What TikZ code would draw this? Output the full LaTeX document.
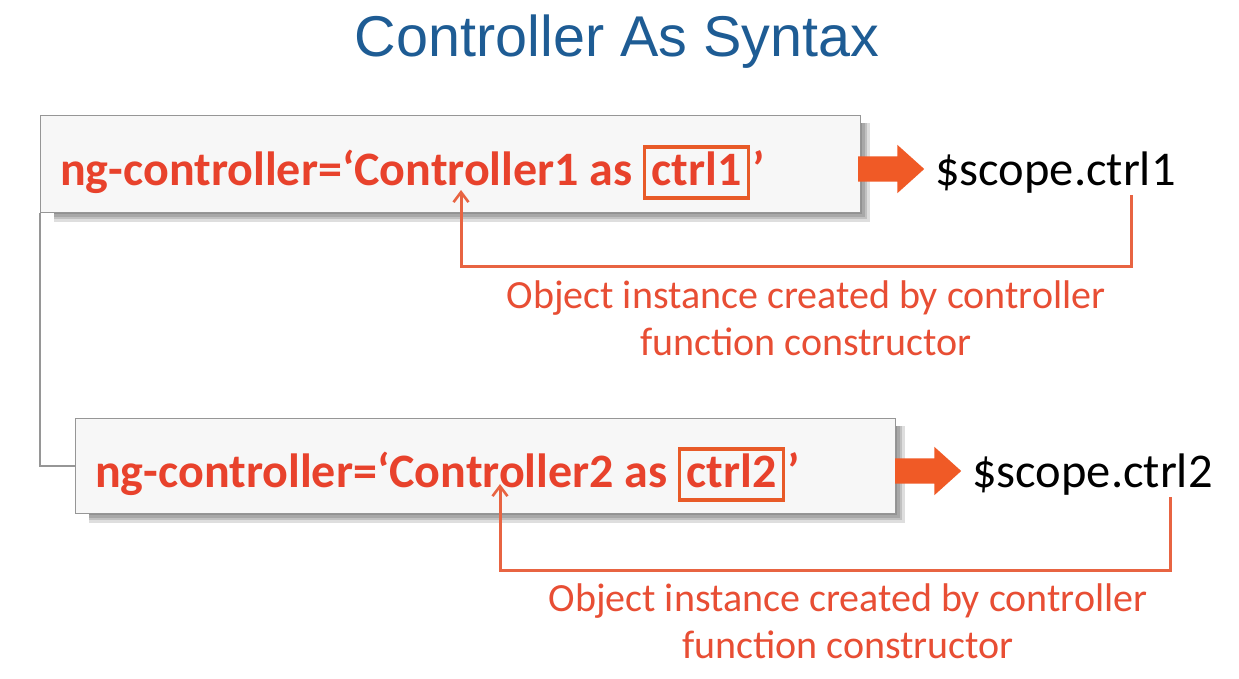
\documentclass[tikz,border=0pt]{standalone}
\usepackage{fontspec}
\setmainfont{Carlito}
\newfontfamily\titlefont{Liberation Sans}
\usetikzlibrary{arrows.meta,shapes.arrows}
\definecolor{titleblue}{RGB}{30,92,148}
\definecolor{codered}{RGB}{232,66,44}
\definecolor{boxorange}{RGB}{232,90,40}
\definecolor{fatorange}{RGB}{240,90,38}
\definecolor{linkorange}{RGB}{232,100,66}
\definecolor{labelred}{RGB}{232,78,52}
\definecolor{panelgray}{RGB}{150,150,150}
\tikzset{
  panel/.style={draw=panelgray, line width=1.2pt, fill=white!97!black, inner sep=0pt, anchor=north west},
  codetext/.style={text=codered, font=\fontsize{48}{58}\selectfont\bfseries, inner sep=0pt, anchor=base west},
  ctrlbox/.style={draw=boxorange, line width=3.6pt, text=codered, font=\fontsize{48}{58}\selectfont\bfseries,
    inner xsep=7pt, inner ysep=4pt, text height=34pt, text depth=9pt, anchor=base west},
  scopetext/.style={text=black, font=\fontsize{48.5}{58}\selectfont, inner sep=0pt, anchor=base west},
  fatarrow/.style={single arrow, fill=fatorange, draw=none, minimum height=66pt, minimum width=48pt,
    inner xsep=0pt, inner ysep=12.5pt, single arrow head extend=11.5pt, single arrow tip angle=84, anchor=west},
  link/.style={draw=linkorange, line width=3pt, -{Straight Barb[length=10pt,width=15pt,line width=2.6pt]}},
  note/.style={text=labelred, font=\fontsize{40}{47}\selectfont, align=center, inner sep=0pt},
  joiner/.style={draw=panelgray, line width=1.4pt}
}
\begin{document}
\begin{tikzpicture}[x=1pt,y=-1pt]
\useasboundingbox[fill=white] (0,0) rectangle (1239,678);

% heading
\node[text=titleblue, font=\titlefont\fontsize{57.5}{64}\selectfont, inner sep=0pt] (title) at (617,42) {Controller As Syntax};

% soft shadows under the two panels
\foreach \o in {3,6,9,12}{
  \fill[black, opacity=0.13] (40+14,115+8) rectangle (860+\o*0.8,212+\o*0.8);
  \fill[black, opacity=0.13] (75+14,418+8) rectangle (895+\o*0.8,513+\o*0.8);
}

% panels
\node[panel, minimum width=820pt, minimum height=97pt] (box1) at (40,115) {};
\node[panel, minimum width=820pt, minimum height=95pt] (box2) at (75,418) {};

% line joining the two panels
\draw[joiner] (box1.south west) |- (box2.west);

% first directive
\node[codetext] (code1) at (60,185) {ng-controller=‘Controller1 as};
\node[ctrlbox] (k1) at ([xshift=10pt]code1.base east) {ctrl1};
\node[codetext] (q1) at ([xshift=2pt]k1.base east) {’};
\node[fatarrow] (a1) at (858,169) {};
\node[scopetext] (s1) at (935,185) {\$scope.ctrl1};

% second directive
\node[codetext] (code2) at (95,487) {ng-controller=‘Controller2 as};
\node[ctrlbox] (k2) at ([xshift=10pt]code2.base east) {ctrl2};
\node[codetext] (q2) at ([xshift=2pt]k2.base east) {’};
\node[fatarrow] (a2) at (895,471) {};
\node[scopetext] (s2) at (972,487) {\$scope.ctrl2};

% back-references from $scope to the controller
\coordinate (t1) at (1131,195);
\coordinate (m1) at (461,266);
\coordinate (h1) at (461,190);
\draw[link] (t1) |- (m1) -- (h1);

\coordinate (t2) at (1170,497);
\coordinate (m2) at (500,570);
\coordinate (h2) at (500,484);
\draw[link] (t2) |- (m2) -- (h2);

% notes
\node[note] (n1) at (806,318) {Object instance created by controller\\function constructor};
\node[note] (n2) at (848,621) {Object instance created by controller\\function constructor};
\end{tikzpicture}
\end{document}
